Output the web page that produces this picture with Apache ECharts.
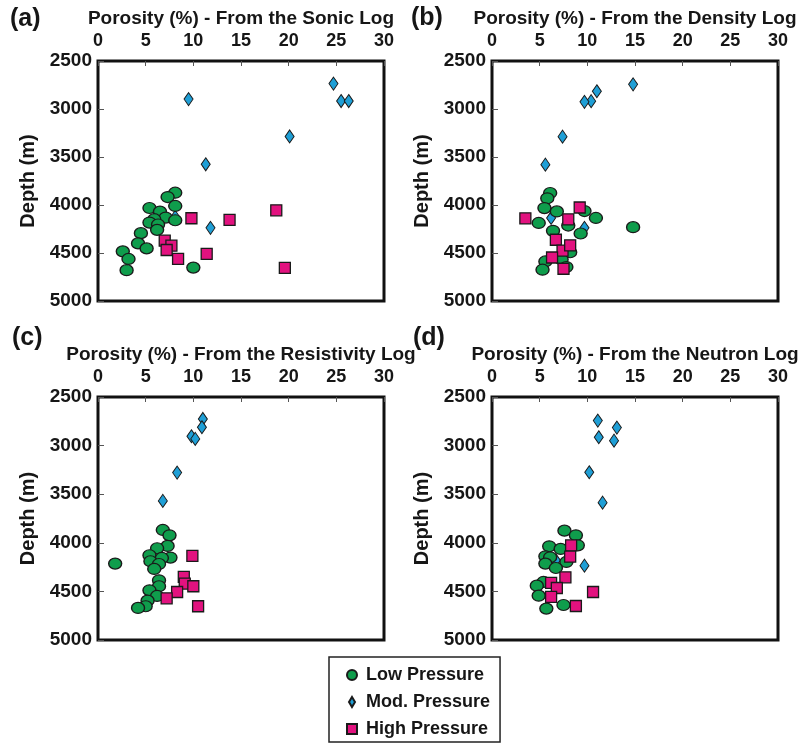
<!DOCTYPE html>
<html>
<head>
<meta charset="utf-8">
<script src="https://cdn.jsdelivr.net/npm/echarts@6/dist/echarts.min.js"></script>
<style>
html, body { margin: 0; padding: 0; background: #fff; }
#chart { width: 809px; height: 747px; }
</style>
</head>
<body>
<div id="chart"></div>
<script>
var panelLabels = ['(a)', '(b)', '(c)', '(d)'];
var logNames = ['Sonic', 'Density', 'Resistivity', 'Neutron'];
var pressureNames = ['Low Pressure', 'Mod. Pressure', 'High Pressure'];

// [porosity %, depth m]
var sonicLow = [[8.1, 3872], [7.3, 3917], [8.1, 4010], [5.4, 4031], [6.5, 4069], [7.1, 4131], [8.1, 4159], [5.9, 4148], [5.4, 4183], [6.3, 4203], [6.2, 4259], [4.5, 4293], [4.2, 4400], [5.1, 4452], [2.6, 4483], [3.2, 4562], [3.0, 4679], [10.0, 4652]];
var sonicMod = [[24.7, 2735], [25.5, 2917], [26.3, 2917], [9.5, 2897], [20.1, 3286], [11.3, 3576], [11.8, 4238], [8.1, 4124], [5.6, 4183]];
var sonicHigh = [[9.8, 4138], [13.8, 4155], [18.7, 4055], [7.0, 4372], [7.7, 4424], [7.2, 4469], [8.4, 4562], [11.4, 4510], [19.6, 4655]];

var densityLow = [[6.1, 3875], [5.8, 3930], [5.5, 4032], [6.8, 4067], [9.7, 4063], [10.9, 4135], [4.9, 4187], [8.0, 4214], [6.4, 4269], [9.3, 4297], [14.8, 4231], [8.2, 4492], [7.3, 4567], [5.6, 4588], [5.3, 4674], [7.8, 4646]];
var densityMod = [[14.8, 2743], [11.0, 2815], [10.4, 2918], [9.7, 2925], [7.4, 3288], [5.6, 3580], [6.2, 4135], [9.7, 4238]];
var densityHigh = [[3.5, 4139], [8.0, 4149], [9.2, 4026], [6.7, 4362], [7.4, 4475], [8.2, 4420], [6.3, 4547], [7.5, 4664]];

var resistivityLow = [[6.8, 3868], [7.5, 3923], [7.3, 4032], [6.2, 4056], [5.4, 4128], [7.6, 4152], [6.7, 4156], [5.5, 4190], [6.4, 4218], [5.9, 4269], [1.8, 4214], [6.4, 4386], [6.4, 4447], [5.4, 4489], [6.2, 4547], [5.2, 4595], [5.0, 4653], [4.2, 4670]];
var resistivityMod = [[11.0, 2726], [10.9, 2811], [9.8, 2904], [10.2, 2931], [8.3, 3278], [6.8, 3569]];
var resistivityHigh = [[9.9, 4135], [9.0, 4351], [9.1, 4420], [10.0, 4447], [8.3, 4506], [7.2, 4571], [10.5, 4653]];

var neutronLow = [[7.6, 3875], [8.8, 3923], [9.0, 4026], [6.0, 4036], [7.2, 4063], [5.6, 4139], [6.1, 4149], [7.8, 4197], [5.6, 4214], [6.7, 4259], [5.4, 4403], [4.7, 4441], [4.9, 4544], [5.7, 4677], [7.5, 4640]];
var neutronMod = [[11.1, 2743], [13.1, 2815], [11.2, 2914], [12.8, 2949], [10.2, 3274], [11.6, 3587], [9.7, 4235], [6.7, 4180]];
var neutronHigh = [[8.3, 4026], [8.2, 4142], [7.7, 4355], [6.2, 4413], [6.8, 4465], [6.2, 4557], [10.6, 4506], [8.8, 4650]];

var lowSets = [sonicLow, densityLow, resistivityLow, neutronLow];
var modSets = [sonicMod, densityMod, resistivityMod, neutronMod];
var highSets = [sonicHigh, densityHigh, resistivityHigh, neutronHigh];

var FONT = '"Liberation Sans", Arial, Helvetica, sans-serif';
var INK = '#161616';

var grids = [
    { left: 98, top: 61, width: 286, height: 240 },
    { left: 492, top: 61, width: 286, height: 240 },
    { left: 98, top: 397, width: 286, height: 243 },
    { left: 492, top: 397, width: 286, height: 243 }
];
var letterPos = [[10, 19], [411, 18], [12, 338], [413, 338]];

var myChart = echarts.init(document.getElementById('chart'));

var option = {
    backgroundColor: '#fff',
    animation: false,
    textStyle: { fontFamily: FONT },
    grid: [],
    xAxis: [],
    yAxis: [],
    series: [],
    graphic: [],
    legend: {
        orient: 'vertical',
        left: 329,
        top: 657,
        padding: [8, 10, 3, 17],
        itemGap: 7,
        itemWidth: 10,
        itemHeight: 10,
        borderColor: '#222',
        borderWidth: 1.5,
        textStyle: { fontSize: 18, fontWeight: 'bold', color: INK, fontFamily: FONT, lineHeight: 20, padding: [0, 0, 0, 4] },
        data: [
            { name: pressureNames[0], icon: 'circle' },
            { name: pressureNames[1], icon: 'path://M3,0L6,5L3,10L0,5Z' },
            { name: pressureNames[2], icon: 'rect' }
        ]
    }
};

for (var i = 0; i < 4; i++) {
    option.grid.push({
        left: grids[i].left, top: grids[i].top, width: grids[i].width, height: grids[i].height,
        show: true, borderColor: '#111', borderWidth: 3, backgroundColor: '#fff'
    });
    option.xAxis.push({
        type: 'value', gridIndex: i, position: 'top',
        min: 0, max: 30, interval: 5,
        name: 'Porosity (%) - From the ' + logNames[i] + ' Log',
        nameLocation: 'middle', nameGap: 33,
        nameTextStyle: { fontSize: 19, fontWeight: 'bold', color: INK, fontFamily: FONT },
        axisLine: { show: false },
        axisTick: { show: true, inside: true, length: 5, lineStyle: { color: '#555', width: 1 } },
        axisLabel: { fontSize: 18, fontWeight: 'bold', color: INK, margin: 11, fontFamily: FONT },
        splitLine: { show: false }
    });
    option.yAxis.push({
        type: 'value', gridIndex: i, inverse: true,
        min: 2500, max: 5000, interval: 500,
        name: 'Depth (m)',
        nameLocation: 'middle', nameGap: 60, nameRotate: 90,
        nameTextStyle: { fontSize: 20, fontWeight: 'bold', color: INK, fontFamily: FONT },
        axisLine: { show: false },
        axisTick: { show: true, inside: true, length: 6, lineStyle: { color: '#555', width: 1 } },
        axisLabel: {
            fontSize: 19, fontWeight: 'bold', color: INK, margin: 6, fontFamily: FONT,
            formatter: function (v) { return String(v); }
        },
        splitLine: { show: false }
    });
    // draw order: diamonds, then circles, then squares
    option.series.push({
        name: pressureNames[1], type: 'scatter', xAxisIndex: i, yAxisIndex: i,
        symbol: 'diamond', symbolSize: [9, 13],
        itemStyle: { color: '#1f9fd6', borderColor: '#1a1a1a', borderWidth: 1, opacity: 1 },
        data: modSets[i]
    });
    option.series.push({
        name: pressureNames[0], type: 'scatter', xAxisIndex: i, yAxisIndex: i,
        symbol: 'circle', symbolSize: [13, 11],
        itemStyle: { color: '#0f9d4c', borderColor: '#1a1a1a', borderWidth: 1.3, opacity: 1 },
        data: lowSets[i]
    });
    option.series.push({
        name: pressureNames[2], type: 'scatter', xAxisIndex: i, yAxisIndex: i,
        symbol: 'rect', symbolSize: [11, 11],
        itemStyle: { color: '#e2127f', borderColor: '#1a1a1a', borderWidth: 1.3, opacity: 1 },
        data: highSets[i]
    });
    option.graphic.push({
        type: 'text', x: letterPos[i][0], y: letterPos[i][1],
        style: { text: panelLabels[i], font: 'bold 25px ' + FONT, fill: INK, align: 'left', verticalAlign: 'middle' }
    });
}

myChart.setOption(option);
</script>
</body>
</html>
